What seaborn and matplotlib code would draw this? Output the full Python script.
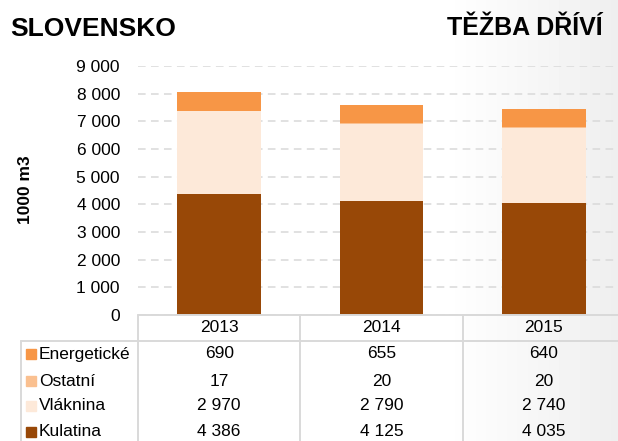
import numpy as np
import matplotlib
matplotlib.use("Agg")
import matplotlib.pyplot as plt
import matplotlib.transforms as mtransforms
from matplotlib.lines import Line2D
from matplotlib.patches import Rectangle
import seaborn as sns

# data (1000 m3)
years = ["2013", "2014", "2015"]
kulatina = [4386, 4125, 4035]
vlaknina = [2970, 2790, 2740]
ostatni = [17, 20, 20]
energeticke = [690, 655, 640]

colors = {
    "Kulatina": "#984807",
    "Vláknina": "#FDE9D9",
    "Ostatní": "#FAC090",
    "Energetické": "#F79646",
}

W, H = 618, 441


def fx(px):
    return px / W


def fy(py):
    return 1 - py / H


def fmt(v):
    return f"{v:,}".replace(",", " ")


sns.set_theme(style="white")
plt.rcParams["font.family"] = ["Liberation Sans", "DejaVu Sans"]
plt.rcParams["text.color"] = "black"
plt.rcParams["ytick.color"] = "black"

fig = plt.figure(figsize=(W / 100, H / 100), dpi=100)

# light grey fade on the right side of the slide
bg = fig.add_axes([0, 0, 1, 1], zorder=-10)
xs = np.linspace(0, 1, W)
grad = np.where(xs < 0.72, 1.0, 1.0 - (xs - 0.72) / 0.28 * 0.065)
bg.imshow(np.tile(grad, (2, 1)), cmap="gray", vmin=0, vmax=1,
          aspect="auto", extent=[0, 1, 0, 1])
bg.axis("off")

ax = fig.add_axes([fx(138), fy(315), fx(625) - fx(138), fy(66) - fy(315)])
ax.patch.set_alpha(0)

# stacked bars, bottom to top
stack = [("Kulatina", kulatina), ("Vláknina", vlaknina),
         ("Ostatní", ostatni), ("Energetické", energeticke)]
bottom = np.zeros(len(years))
for name, vals in stack:
    sns.barplot(x=years, y=vals, bottom=bottom.copy(), color=colors[name],
                width=0.517, saturation=1, errorbar=None, linewidth=0,
                zorder=3, ax=ax)
    bottom += np.array(vals)

ax.set_xlim(-0.5, 2.5)
ax.set_ylim(0, 9000)
ticks = list(range(0, 9001, 1000))
ax.set_yticks(ticks)
ax.set_yticklabels([fmt(t) for t in ticks], fontsize=12.5, color="black")
ax.tick_params(axis="y", length=0, pad=13)
ax.set_xticks([])
ax.set_xlabel("")
ax.set_ylabel("")
ax.set_axisbelow(True)
ax.yaxis.grid(True, color="#d9d9d9", linestyle=(0, (5, 3.5)), linewidth=1.1)
for s in ax.spines.values():
    s.set_visible(False)

# data table under the chart
line_kw = dict(color="#d9d9d9", linewidth=1.4, transform=fig.transFigure)
fig.add_artist(Line2D([fx(138), fx(625)], [fy(315), fy(315)], **line_kw))
fig.add_artist(Line2D([fx(21), fx(625)], [fy(341), fy(341)], **line_kw))
fig.add_artist(Line2D([fx(21), fx(21)], [fy(341), 0], **line_kw))
trans = mtransforms.blended_transform_factory(ax.transData, fig.transFigure)
for b in [-0.5, 0.5, 1.5]:
    fig.add_artist(Line2D([b, b], [fy(315), 0], color="#d9d9d9",
                          linewidth=1.4, transform=trans))

for i, y in enumerate(years):
    fig.text(i, fy(328), y, transform=trans, ha="center", va="center",
             fontsize=12.5)

rows = [("Energetické", energeticke), ("Ostatní", ostatni),
        ("Vláknina", vlaknina), ("Kulatina", kulatina)]
row_y = [354, 381, 406, 432]
for (name, vals), ry in zip(rows, row_y):
    fig.add_artist(Rectangle((fx(26), fy(ry + 5)), fx(10), 10 / H,
                             color=colors[name], transform=fig.transFigure))
    fig.text(fx(39), fy(ry), name, ha="left", va="center", fontsize=12.5)
    for i, v in enumerate(vals):
        fig.text(i, fy(ry), fmt(v), transform=trans, ha="center",
                 va="center", fontsize=12.5)

fig.text(fx(25), fy(190), "1000 m3", rotation=90, ha="center", va="center",
         fontsize=12.5, weight="bold")
fig.text(fx(10), fy(36), "SLOVENSKO", ha="left", va="baseline",
         fontsize=19, weight="bold")
fig.text(fx(603), fy(35), "TĚŽBA DŘÍVÍ", ha="right", va="baseline",
         fontsize=18, weight="bold")

fig.savefig("out.png", dpi=100)
